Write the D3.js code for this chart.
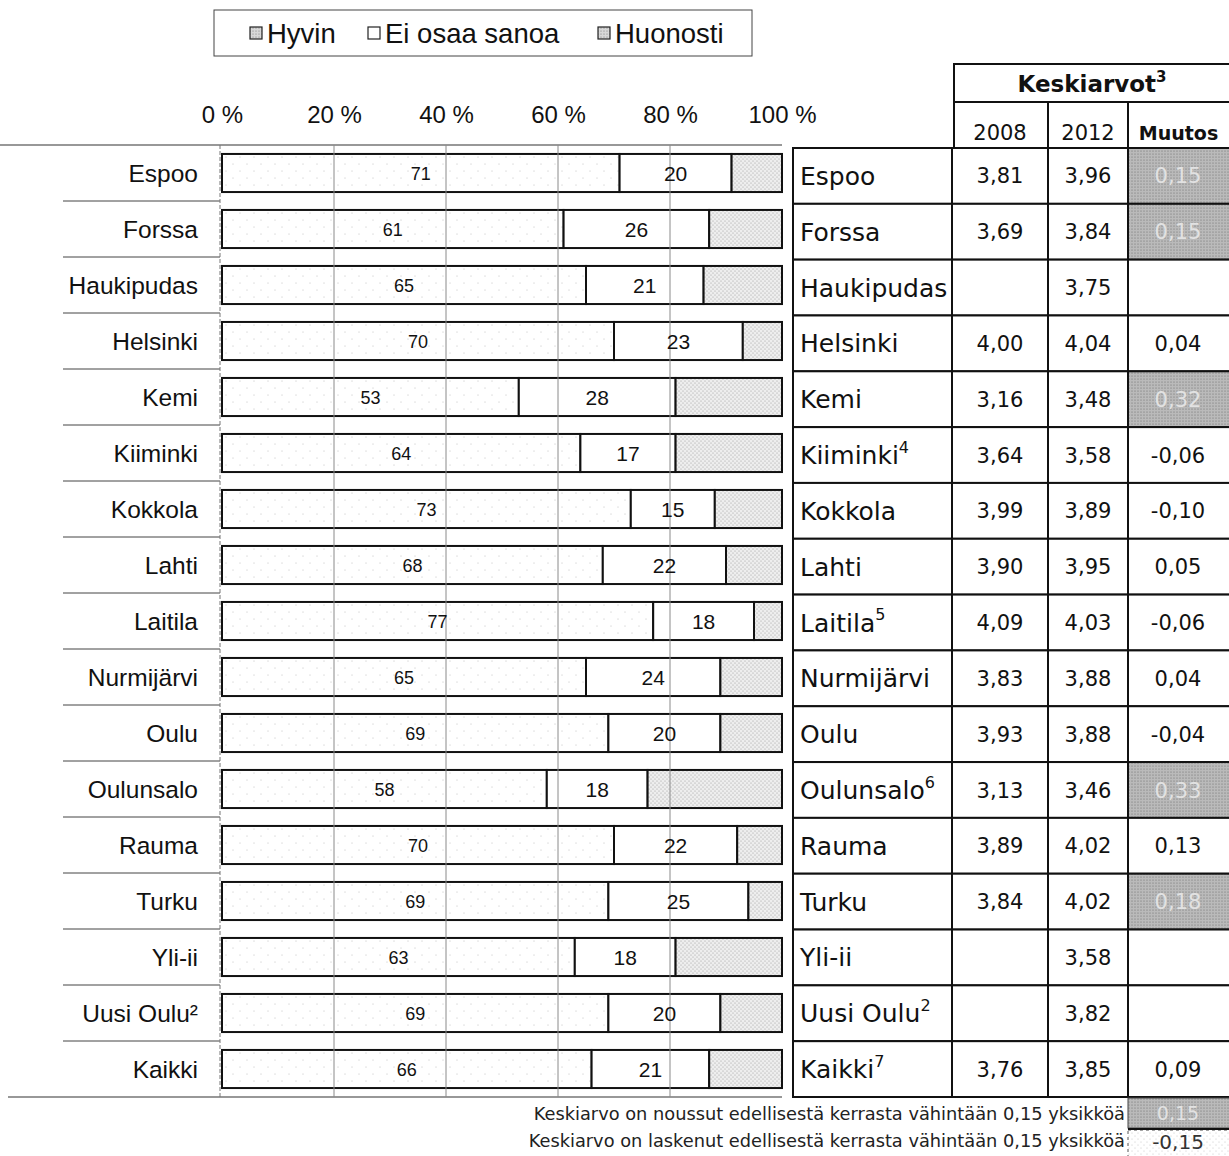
<!DOCTYPE html>
<html><head><meta charset="utf-8">
<script src="https://cdn.jsdelivr.net/npm/d3@7"></script>
<style>body{margin:0;background:#fff}svg{display:block}</style>
</head><body>
<script>
const cities = ["Espoo","Forssa","Haukipudas","Helsinki","Kemi","Kiiminki","Kokkola","Lahti","Laitila","Nurmijärvi","Oulu","Oulunsalo","Rauma","Turku","Yli-ii","Uusi Oulu","Kaikki"];
const leftSup = ["","","","","","","","","","","","","","","","²",""];
const tableSup = ["","","","","","4","","","5","","","6","","","","2","7"];
const hyvin = [71,61,65,70,53,64,73,68,77,65,69,58,70,69,63,69,66];
const eiOsaa = [20,26,21,23,28,17,15,22,18,24,20,18,22,25,18,20,21];
const huonosti = [9,13,14,7,19,19,12,10,5,11,11,24,8,6,19,11,13];
const seriesNames = ["Hyvin","Ei osaa sanoa","Huonosti"];
const mean2008 = [3.81,3.69,null,4.00,3.16,3.64,3.99,3.90,4.09,3.83,3.93,3.13,3.89,3.84,null,null,3.76];
const mean2012 = [3.96,3.84,3.75,4.04,3.48,3.58,3.89,3.95,4.03,3.88,3.88,3.46,4.02,4.02,3.58,3.82,3.85];
const muutos = [0.15,0.15,null,0.04,0.32,-0.06,-0.10,0.05,-0.06,0.04,-0.04,0.33,0.13,0.18,null,null,0.09];
const xTicks = [0,20,40,60,80,100];
const footNotes = ["Keskiarvo on noussut edellisestä kerrasta vähintään 0,15 yksikköä","Keskiarvo on laskenut edellisestä kerrasta vähintään 0,15 yksikköä"];
const footValues = [0.15,-0.15];

const W=1229,H=1156;
const svg=d3.select("body").append("svg").attr("width",W).attr("height",H);
const defs=svg.append("defs");
function stipple(id,bg,dot,size,pts,r){
  const p=defs.append("pattern").attr("id",id).attr("patternUnits","userSpaceOnUse").attr("width",size).attr("height",size);
  p.append("rect").attr("width",size).attr("height",size).attr("fill",bg);
  pts.forEach(q=>p.append("circle").attr("cx",q[0]).attr("cy",q[1]).attr("r",r).attr("fill",dot));
}
stipple("pHyvin","#fff","#bbb",14,[[2,3],[9,10]],0.55);
stipple("pHuon","#eeeeee","#999",4,[[1,1],[3,3]],0.55);
stipple("pGray","#bababa","#6a6a6a",3,[[1,1]],0.6);
stipple("pLight","#fff","#bbb",6,[[1,2],[4,5]],0.5);
stipple("pLeg","#d8d8d8","#777",3,[[1,1]],0.55);
const fills=["url(#pHyvin)","#fff","url(#pHuon)"];

const sans="'Liberation Sans', Arial, sans-serif";
const verd="'DejaVu Sans', Verdana, sans-serif";

// Legend
const lg=svg.append("g");
lg.append("rect").attr("x",214).attr("y",10).attr("width",538).attr("height",46).attr("fill","#fff").attr("stroke","#444").attr("stroke-width",1);
const legX=[250,368,598];
const legFill=["url(#pLeg)","#fff","url(#pLeg)"];
seriesNames.forEach((n,i)=>{
  lg.append("rect").attr("x",legX[i]).attr("y",27).attr("width",12).attr("height",12).attr("fill",legFill[i]).attr("stroke","#222").attr("stroke-width",1.2);
  lg.append("text").attr("x",legX[i]+17).attr("y",43).attr("font-family",sans).attr("font-size",27.5).attr("fill","#111").text(n);
});

// Scales
const x=d3.scaleLinear().domain([0,100]).range([222,782]);
const y=d3.scaleBand().domain(cities).range([145,1097]).paddingInner(0.32).paddingOuter(0.16);
const step=y.step();

// Axis labels
const ax=svg.append("g").attr("transform","translate(0,123)").call(d3.axisTop(x).tickValues(xTicks).tickFormat(d=>d+" %").tickSize(0).tickPadding(0));
ax.select(".domain").remove();
ax.selectAll("text").attr("font-family",sans).attr("font-size",24).attr("fill","#111");

// Row separators on left
svg.append("line").attr("x1",0).attr("x2",782).attr("y1",145).attr("y2",145).attr("stroke","#333").attr("stroke-width",1.2);
svg.append("line").attr("x1",8).attr("x2",782).attr("y1",1097).attr("y2",1097).attr("stroke","#333").attr("stroke-width",1.2);
cities.slice(1).forEach(c=>{
  const yy=y(c)-step*0.16;
  svg.append("line").attr("x1",63).attr("x2",220).attr("y1",yy).attr("y2",yy).attr("stroke","#444").attr("stroke-width",1);
});
svg.append("line").attr("x1",220).attr("x2",220).attr("y1",145).attr("y2",1097).attr("stroke","#777").attr("stroke-width",1).attr("stroke-dasharray","4,2");

// Category labels
cities.forEach((c,i)=>{
  const t=svg.append("text").attr("x",198).attr("y",y(c)+y.bandwidth()/2).attr("dy","0.35em").attr("text-anchor","end").attr("font-family",sans).attr("font-size",24.5).attr("fill","#111").text(c);
  if(leftSup[i]) t.append("tspan").text(leftSup[i]);
});

// Bars
const series=[hyvin,eiOsaa,huonosti];
cities.forEach((c,i)=>{
  let cum=0;
  series.forEach((s,k)=>{
    const v=s[i];
    svg.append("rect").attr("x",x(cum)).attr("y",y(c)).attr("width",x(cum+v)-x(cum)).attr("height",y.bandwidth())
      .attr("fill",fills[k]).attr("stroke","#111").attr("stroke-width",2);
    cum+=v;
  });
});
// gridlines
[20,40,60,80].forEach(v=>{
  svg.append("line").attr("x1",x(v)).attr("x2",x(v)).attr("y1",145).attr("y2",1097).attr("stroke","#8a8a8a").attr("stroke-width",1);
});
// bar labels
cities.forEach((c,i)=>{
  let cum=0;
  [hyvin,eiOsaa].forEach((s,k)=>{
    const v=s[i];
    svg.append("text").attr("x",x(cum+v/2)).attr("y",y(c)+y.bandwidth()/2).attr("dy","0.38em").attr("text-anchor","middle")
      .attr("font-family",sans).attr("font-size",k==0?18:21).attr("fill","#111").text(v);
    cum+=v;
  });
});

// Table
const ty=d3.scaleBand().domain(cities).range([148,1097]);
const cols=[793,952,1048,1128,1232];
const fmt=d3.formatLocale({decimal:",",thousands:" ",grouping:[3],currency:["",""],minus:"-"}).format(".2f");
const tg=svg.append("g");
// header
tg.append("rect").attr("x",954).attr("y",64).attr("width",280).attr("height",38).attr("fill","#fff").attr("stroke","#111").attr("stroke-width",2);
const ht=tg.append("text").attr("x",1092).attr("y",84).attr("dy","0.36em").attr("text-anchor","middle").attr("font-family",verd).attr("font-weight","bold").attr("font-size",23).attr("fill","#111").text("Keskiarvot");
ht.append("tspan").attr("font-size",15).attr("dy","-0.7em").text("3");
tg.append("line").attr("x1",954).attr("x2",954).attr("y1",102).attr("y2",148).attr("stroke","#111").attr("stroke-width",2);
tg.append("line").attr("x1",1048).attr("x2",1048).attr("y1",102).attr("y2",148).attr("stroke","#111").attr("stroke-width",2);
tg.append("line").attr("x1",1128).attr("x2",1128).attr("y1",102).attr("y2",148).attr("stroke","#111").attr("stroke-width",2);
const hdr=["2008","2012","Muutos"];
hdr.forEach((h,k)=>{
  tg.append("text").attr("x",(cols[k+1]+Math.min(cols[k+2],1229))/2).attr("y",140).attr("text-anchor","middle").attr("font-family",verd)
    .attr("font-weight",k==2?"bold":"normal").attr("font-size",k==2?19:21).attr("fill","#111").text(h);
});
cities.forEach((c,i)=>{
  const top=ty(c),h=ty.bandwidth(),mid=top+h/2;
  for(let k=0;k<4;k++){
    let fill="#fff";
    if(k==3 && muutos[i]!==null && muutos[i]>=0.15) fill="url(#pGray)";
    tg.append("rect").attr("x",cols[k]).attr("y",top).attr("width",cols[k+1]-cols[k]).attr("height",h).attr("fill",fill).attr("stroke","#111").attr("stroke-width",2);
  }
  const t=tg.append("text").attr("x",800).attr("y",mid).attr("dy","0.36em").attr("font-family",verd).attr("font-size",25).attr("fill","#111").text(c);
  if(tableSup[i]) t.append("tspan").attr("font-size",16).attr("dy","-0.7em").text(tableSup[i]);
  const vals=[mean2008[i],mean2012[i],muutos[i]];
  vals.forEach((v,k)=>{
    if(v===null) return;
    const gray=(k==2 && v>=0.15);
    tg.append("text").attr("x",k==2?1178:(cols[k+1]+cols[k+2])/2).attr("y",mid).attr("dy","0.36em").attr("text-anchor","middle")
      .attr("font-family",verd).attr("font-size",21).attr("fill",gray?"#e2e2e2":"#111").text(fmt(v));
  });
});

// Footer
footNotes.forEach((f,i)=>{
  const yy=1114+i*27;
  svg.append("text").attr("x",1125).attr("y",yy).attr("dy","0.36em").attr("text-anchor","end").attr("font-family",verd).attr("font-size",17.8).attr("fill","#222").text(f);
});
svg.append("rect").attr("x",1128).attr("y",1098).attr("width",104).attr("height",30).attr("fill","url(#pGray)").attr("stroke","#444").attr("stroke-width",1);
svg.append("text").attr("x",1178).attr("y",1113).attr("dy","0.36em").attr("text-anchor","middle").attr("font-family",verd).attr("font-size",19).attr("fill","#e2e2e2").text(fmt(footValues[0]));
svg.append("rect").attr("x",1128).attr("y",1130).attr("width",104).attr("height",30).attr("fill","url(#pLight)").attr("stroke","#555").attr("stroke-width",1).attr("stroke-dasharray","3,3");
svg.append("line").attr("x1",1128).attr("x2",1232).attr("y1",1129).attr("y2",1129).attr("stroke","#111").attr("stroke-width",2);
svg.append("text").attr("x",1178).attr("y",1142).attr("dy","0.36em").attr("text-anchor","middle").attr("font-family",verd).attr("font-size",20).attr("fill","#333").text(fmt(footValues[1]));
</script>
</body></html>
